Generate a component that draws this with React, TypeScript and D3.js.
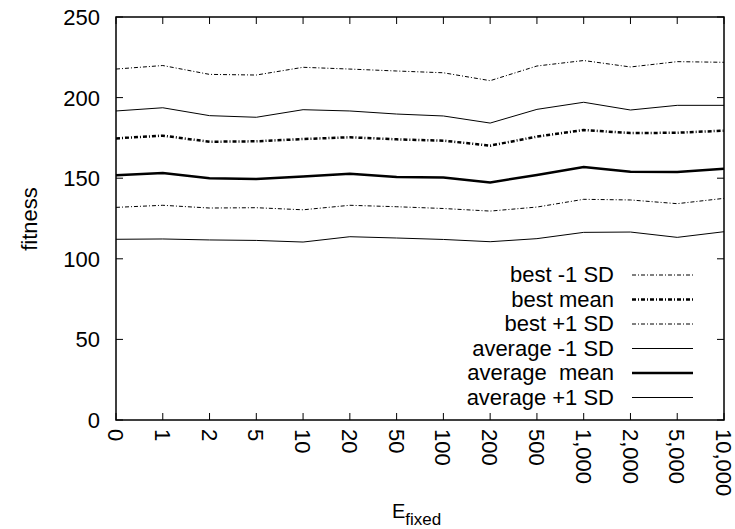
import { useEffect, useRef } from "react";
import * as d3 from "d3";

const categories = ["0", "1", "2", "5", "10", "20", "50", "100", "200", "500", "1,000", "2,000", "5,000", "10,000"];
const yTicks = [0, 50, 100, 150, 200, 250];

const bestMinus = [131.9, 133.2, 131.5, 131.7, 130.4, 133.2, 132.3, 131.2, 129.6, 132.1, 136.9, 136.5, 134.2, 137.5];
const bestMean = [174.7, 176.4, 172.6, 172.9, 174.3, 175.4, 174.1, 173.3, 170.2, 175.8, 179.9, 178, 178.2, 179.5];
const bestPlus = [217.7, 219.9, 214.4, 214, 218.8, 217.7, 216.5, 215.4, 210.5, 219.6, 223, 219, 222.3, 221.9];
const avgMinus = [112.1, 112.3, 111.7, 111.4, 110.4, 113.7, 112.9, 112, 110.6, 112.5, 116.4, 116.6, 113.3, 116.8];
const avgMean = [151.9, 153.2, 150, 149.5, 151, 152.8, 150.7, 150.5, 147.4, 152, 157, 154, 153.8, 155.9];
const avgPlus = [191.7, 193.7, 188.8, 187.8, 192.5, 191.7, 189.8, 188.6, 184.2, 192.7, 197.1, 192.3, 195.2, 195.2];

const series = [
    { label: "best -1 SD", values: bestMinus, width: 1, dash: "4,2,1,2" },
    { label: "best mean", values: bestMean, width: 2.5, dash: "4,2,1,2" },
    { label: "best +1 SD", values: bestPlus, width: 1, dash: "4,2,1,2" },
    { label: "average -1 SD", values: avgMinus, width: 1, dash: null },
    { label: "average  mean", values: avgMean, width: 2.5, dash: null },
    { label: "average +1 SD", values: avgPlus, width: 1, dash: null },
];

const FONT = "'Liberation Sans', Arial, Helvetica, sans-serif";

const App = () => {
    const chartRef = useRef(null);

    useEffect(() => {
        const W = 735, H = 529;
        const margin = { top: 17, right: 11, bottom: 109, left: 116 };
        const width = W - margin.left - margin.right;
        const height = H - margin.top - margin.bottom;

        const root = d3.select(chartRef.current)
            .attr("width", W)
            .attr("height", H);

        root.append("rect").attr("width", W).attr("height", H).attr("fill", "white");

        const svg = root.append("g")
            .attr("transform", `translate(${margin.left},${margin.top})`);

        const x = d3.scalePoint().domain(categories).range([0, width]);
        const y = d3.scaleLinear().domain([0, 250]).range([height, 0]);

        // ticks, inward on all four sides
        const ticks = svg.append("g").attr("stroke", "black").attr("stroke-width", 1);
        yTicks.forEach(t => {
            ticks.append("line").attr("x1", 0).attr("x2", 7).attr("y1", y(t)).attr("y2", y(t));
            ticks.append("line").attr("x1", width).attr("x2", width - 7).attr("y1", y(t)).attr("y2", y(t));
        });
        categories.forEach(c => {
            ticks.append("line").attr("x1", x(c)).attr("x2", x(c)).attr("y1", height).attr("y2", height - 7);
            ticks.append("line").attr("x1", x(c)).attr("x2", x(c)).attr("y1", 0).attr("y2", 7);
        });

        svg.append("g")
            .selectAll("text")
            .data(yTicks)
            .enter()
            .append("text")
            .attr("x", -16)
            .attr("y", d => y(d))
            .attr("dy", "0.36em")
            .attr("text-anchor", "end")
            .style("font-family", FONT)
            .style("font-size", "22px")
            .text(d => d);

        svg.append("g")
            .selectAll("text")
            .data(categories)
            .enter()
            .append("text")
            .attr("transform", d => `translate(${x(d)},${height + 9}) rotate(90)`)
            .attr("dy", "0.36em")
            .attr("text-anchor", "start")
            .style("font-family", FONT)
            .style("font-size", "22px")
            .text(d => d);

        const line = d3.line()
            .x((d, i) => x(categories[i]))
            .y(d => y(d));

        series.forEach(s => {
            svg.append("path")
                .datum(s.values)
                .attr("d", line)
                .attr("fill", "none")
                .attr("stroke", "black")
                .attr("stroke-width", s.width)
                .attr("stroke-dasharray", s.dash);
        });

        // legend
        const legend = svg.append("g");
        series.forEach((s, i) => {
            const by = 265 + i * 24.5;
            legend.append("text")
                .attr("x", 498)
                .attr("y", by)
                .attr("text-anchor", "end")
                .style("font-family", FONT)
                .style("font-size", "22px")
                .style("white-space", "pre")
                .text(s.label);
            legend.append("line")
                .attr("x1", 516)
                .attr("x2", 577)
                .attr("y1", by - 7)
                .attr("y2", by - 7)
                .attr("stroke", "black")
                .attr("stroke-width", s.width)
                .attr("stroke-dasharray", s.dash);
        });

        svg.append("rect")
            .attr("width", width)
            .attr("height", height)
            .attr("fill", "none")
            .attr("stroke", "black")
            .attr("stroke-width", 1.5);

        root.append("text")
            .attr("transform", `translate(37,219) rotate(-90)`)
            .attr("text-anchor", "middle")
            .style("font-family", FONT)
            .style("font-size", "22px")
            .text("fitness");

        const xt = root.append("text")
            .attr("x", 392)
            .attr("y", 518)
            .style("font-family", FONT)
            .style("font-size", "20px");
        xt.append("tspan").text("E");
        xt.append("tspan").attr("dy", 7).style("font-size", "17px").text("fixed");

        return () => {
            d3.select(chartRef.current).selectAll("*").remove();
        };
    }, []);

    return <svg ref={chartRef} style={{ position: "absolute", left: 0, top: 0 }}></svg>;
};

export default App;
